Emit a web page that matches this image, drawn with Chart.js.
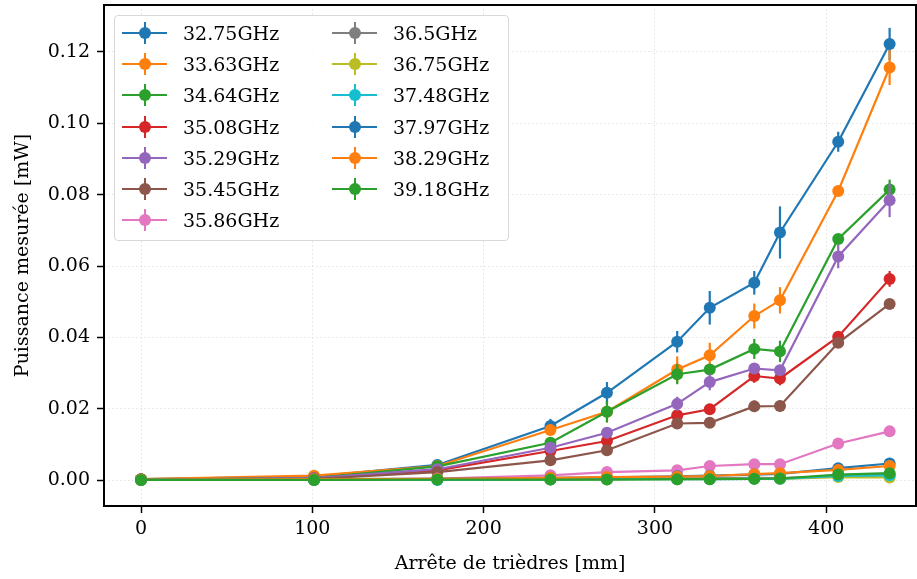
<!DOCTYPE html>
<html>
<head>
<meta charset="utf-8">
<script src="https://cdn.jsdelivr.net/npm/chart.js@4.4.1/dist/chart.umd.min.js"></script>
<style>
  html, body { margin: 0; padding: 0; background: #fff; }
  #wrap { position: relative; width: 917px; height: 579px; }
  #legend { position: absolute; left: 114px; top: 15px; width: 393px; height: 224px;
    border: 1px solid #d8d8d8; border-radius: 4px; background: rgba(255,255,255,0.85);
    font-family: "DejaVu Serif", serif; font-size: 19px; color: #000; }
  .item { position: absolute; height: 22px; }
  .icon { position: absolute; width: 45px; height: 22px; top: 0; }
  .icon .ln { position: absolute; left: 0; right: 0; top: 10px; height: 2px; }
  .icon .vb { position: absolute; left: 21.5px; width: 2px; top: 0; height: 22px; }
  .icon .dot { position: absolute; left: 16.5px; top: 5px; width: 12px; height: 12px; border-radius: 50%; }
  .txt { position: absolute; top: 0px; white-space: nowrap; line-height: 22px; }
</style>
</head>
<body>
<div id="wrap">
  <canvas id="c" width="917" height="579"></canvas>
  <div id="legend"></div>
</div>
<script>
// ---------- data ----------
const xVals = [0, 101, 173, 239, 272, 313, 332, 358, 373, 407, 437];
const labels = ['32.75GHz', '33.63GHz', '34.64GHz', '35.08GHz', '35.29GHz', '35.45GHz', '35.86GHz',
                '36.5GHz', '36.75GHz', '37.48GHz', '37.97GHz', '38.29GHz', '39.18GHz'];
const xTicks = [0, 100, 200, 300, 400];
const yTicks = [0.00, 0.02, 0.04, 0.06, 0.08, 0.10, 0.12];

const s3275 = [0.0003, 0.0010, 0.0043, 0.0152, 0.0245, 0.0388, 0.0483, 0.0553, 0.0694, 0.0948, 0.1222];
const s3363 = [0.0003, 0.0013, 0.0040, 0.0141, 0.0192, 0.0310, 0.0350, 0.0460, 0.0504, 0.0810, 0.1156];
const s3464 = [0.0002, 0.0006, 0.0039, 0.0105, 0.0192, 0.0297, 0.0310, 0.0368, 0.0361, 0.0676, 0.0814];
const s3508 = [0.0002, 0.0005, 0.0028, 0.0082, 0.0110, 0.0182, 0.0199, 0.0292, 0.0285, 0.0402, 0.0564];
const s3529 = [0.0002, 0.0006, 0.0031, 0.0091, 0.0133, 0.0214, 0.0275, 0.0313, 0.0308, 0.0627, 0.0784];
const s3545 = [0.0002, 0.0004, 0.0023, 0.0056, 0.0084, 0.0159, 0.0161, 0.0207, 0.0208, 0.0385, 0.0494];
const s3586 = [0.0001, 0.0002, 0.0005, 0.0014, 0.0023, 0.0028, 0.0040, 0.0045, 0.0045, 0.0103, 0.0137];
const s3650 = [0.0001, 0.0001, 0.0002, 0.0003, 0.0004, 0.0005, 0.0006, 0.0007, 0.0006, 0.0012, 0.0015];
const s3675 = [0.0001, 0.0001, 0.0002, 0.0002, 0.0003, 0.0003, 0.0004, 0.0004, 0.0004, 0.0009, 0.0008];
const s3748 = [0.0001, 0.0001, 0.0001, 0.0002, 0.0003, 0.0003, 0.0003, 0.0004, 0.0004, 0.0012, 0.0014];
const s3797 = [0.0002, 0.0003, 0.0004, 0.0007, 0.0008, 0.0011, 0.0013, 0.0016, 0.0018, 0.0034, 0.0047];
const s3829 = [0.0002, 0.0003, 0.0004, 0.0007, 0.0009, 0.0010, 0.0012, 0.0017, 0.0020, 0.0029, 0.0040];
const s3918 = [0.0001, 0.0001, 0.0002, 0.0002, 0.0002, 0.0003, 0.0003, 0.0004, 0.0005, 0.0016, 0.0020];

const e3275 = [0.0001, 0.0003, 0.0005, 0.0020, 0.0030, 0.0030, 0.0047, 0.0033, 0.0073, 0.0028, 0.0045];
const e3363 = [0.0001, 0.0003, 0.0005, 0.0015, 0.0030, 0.0037, 0.0035, 0.0035, 0.0037, 0.0015, 0.0049];
const e3464 = [0.0001, 0.0002, 0.0004, 0.0010, 0.0030, 0.0028, 0.0015, 0.0028, 0.0030, 0.0010, 0.0028];
const e3508 = [0.0001, 0.0001, 0.0003, 0.0008, 0.0010, 0.0012, 0.0012, 0.0019, 0.0019, 0.0012, 0.0022];
const e3529 = [0.0001, 0.0002, 0.0003, 0.0010, 0.0010, 0.0020, 0.0023, 0.0015, 0.0015, 0.0033, 0.0047];
const e3545 = [0.0001, 0.0001, 0.0003, 0.0005, 0.0007, 0.0012, 0.0010, 0.0016, 0.0016, 0.0010, 0.0008];
const e3586 = [0.0001, 0.0001, 0.0001, 0.0002, 0.0003, 0.0003, 0.0004, 0.0004, 0.0004, 0.0005, 0.0005];
const e3650 = [0.0001, 0.0001, 0.0001, 0.0001, 0.0001, 0.0001, 0.0001, 0.0001, 0.0001, 0.0002, 0.0002];
const e3675 = [0.0001, 0.0001, 0.0001, 0.0001, 0.0001, 0.0001, 0.0001, 0.0001, 0.0001, 0.0002, 0.0002];
const e3748 = [0.0001, 0.0001, 0.0001, 0.0001, 0.0001, 0.0001, 0.0001, 0.0001, 0.0001, 0.0002, 0.0002];
const e3797 = [0.0001, 0.0001, 0.0001, 0.0001, 0.0001, 0.0002, 0.0002, 0.0002, 0.0002, 0.0003, 0.0004];
const e3829 = [0.0001, 0.0001, 0.0001, 0.0001, 0.0001, 0.0002, 0.0002, 0.0002, 0.0002, 0.0003, 0.0004];
const e3918 = [0.0001, 0.0001, 0.0001, 0.0001, 0.0001, 0.0001, 0.0001, 0.0001, 0.0001, 0.0002, 0.0002];

const seriesList = [s3275, s3363, s3464, s3508, s3529, s3545, s3586, s3650, s3675, s3748, s3797, s3829, s3918];
const errorList  = [e3275, e3363, e3464, e3508, e3529, e3545, e3586, e3650, e3675, e3748, e3797, e3829, e3918];
const colors = ['#1f77b4', '#ff7f0e', '#2ca02c', '#d62728', '#9467bd', '#8c564b', '#e377c2',
                '#7f7f7f', '#bcbd22', '#17becf', '#1f77b4', '#ff7f0e', '#2ca02c'];

const FONT = '"DejaVu Serif", serif';
const N = seriesList.length;

const datasets = seriesList.map((ys, i) => ({
  label: labels[i],
  data: ys.map((y, j) => ({ x: xVals[j], y: y })),
  borderColor: colors[i],
  backgroundColor: colors[i],
  pointBackgroundColor: colors[i],
  pointBorderColor: colors[i],
  pointBorderWidth: 0,
  pointRadius: 6,
  borderWidth: 2.2,
  tension: 0,
  fill: false,
  order: N - i
}));

const errorBars = {
  id: 'errorBars',
  beforeDatasetDraw(chart, args) {
    const i = args.index;
    const xs = chart.scales.x, ysc = chart.scales.y, ctx = chart.ctx, a = chart.chartArea;
    ctx.save();
    ctx.beginPath(); ctx.rect(a.left, a.top, a.right - a.left, a.bottom - a.top); ctx.clip();
    ctx.strokeStyle = colors[i]; ctx.lineWidth = 2.2; ctx.setLineDash([]);
    seriesList[i].forEach((v, j) => {
      const e = errorList[i][j];
      const px = xs.getPixelForValue(xVals[j]);
      ctx.beginPath();
      ctx.moveTo(px, ysc.getPixelForValue(v - e));
      ctx.lineTo(px, ysc.getPixelForValue(v + e));
      ctx.stroke();
    });
    ctx.restore();
  }
};

const frame = {
  id: 'frame',
  afterDatasetsDraw(chart) {
    const a = chart.chartArea, ctx = chart.ctx;
    ctx.save();
    ctx.strokeStyle = '#000'; ctx.lineWidth = 2; ctx.setLineDash([]);
    ctx.strokeRect(a.left, a.top, a.right - a.left, a.bottom - a.top);
    ctx.restore();
  }
};

new Chart(document.getElementById('c'), {
  type: 'line',
  data: { datasets },
  plugins: [errorBars, frame],
  options: {
    responsive: false,
    animation: false,
    devicePixelRatio: 1,
    layout: { autoPadding: false, padding: { top: 5, right: 1, left: 0, bottom: 0 } },
    plugins: { legend: { display: false }, tooltip: { enabled: false } },
    scales: {
      x: {
        type: 'linear', min: -21.6, max: 452.4,
        afterBuildTicks: s => { s.ticks = xTicks.map(v => ({ value: v })); },
        afterFit: s => { s.height = 73; s.paddingLeft = 0; s.paddingRight = 0; },
        border: { display: false, dash: [1.5, 2.5] },
        grid: { color: '#dcdcdc', lineWidth: 0.8, tickColor: '#000', tickLength: 7, tickWidth: 1.5, tickBorderDash: [] },
        ticks: { color: '#000', font: { family: FONT, size: 19 }, padding: 5, maxRotation: 0,
                 callback: v => String(v) },
        title: { display: true, text: 'Arrête de trièdres [mm]', color: '#000',
                 font: { family: FONT, size: 19 }, padding: 4 }
      },
      y: {
        type: 'linear', min: -0.0072, max: 0.1331,
        afterBuildTicks: s => { s.ticks = yTicks.map(v => ({ value: v })); },
        afterFit: s => { s.width = 104; s.paddingTop = 0; s.paddingBottom = 0; },
        border: { display: false, dash: [1.5, 2.5] },
        grid: { color: '#dcdcdc', lineWidth: 0.8, tickColor: '#000', tickLength: 7, tickWidth: 1.5, tickBorderDash: [] },
        ticks: { color: '#000', font: { family: FONT, size: 19 }, padding: 7,
                 callback: v => v.toFixed(2) },
        title: { display: true, text: 'Puissance mesurée [mW]', color: '#000',
                 font: { family: FONT, size: 19 }, padding: 12 }
      }
    }
  }
});

// ---------- legend (HTML text) ----------
const leg = document.getElementById('legend');
labels.forEach((lab, i) => {
  const col = i < 7 ? 0 : 1, row = i < 7 ? i : i - 7;
  const item = document.createElement('div');
  item.className = 'item';
  item.style.left = (col === 0 ? 7 : 217) + 'px';
  item.style.top = (6 + row * 31.2) + 'px';
  item.innerHTML =
    '<div class="icon"><div class="ln" style="background:' + colors[i] + '"></div>' +
    '<div class="vb" style="background:' + colors[i] + '"></div>' +
    '<div class="dot" style="background:' + colors[i] + '"></div></div>' +
    '<div class="txt" style="left:61px">' + lab + '</div>';
  leg.appendChild(item);
});
</script>
</body>
</html>
